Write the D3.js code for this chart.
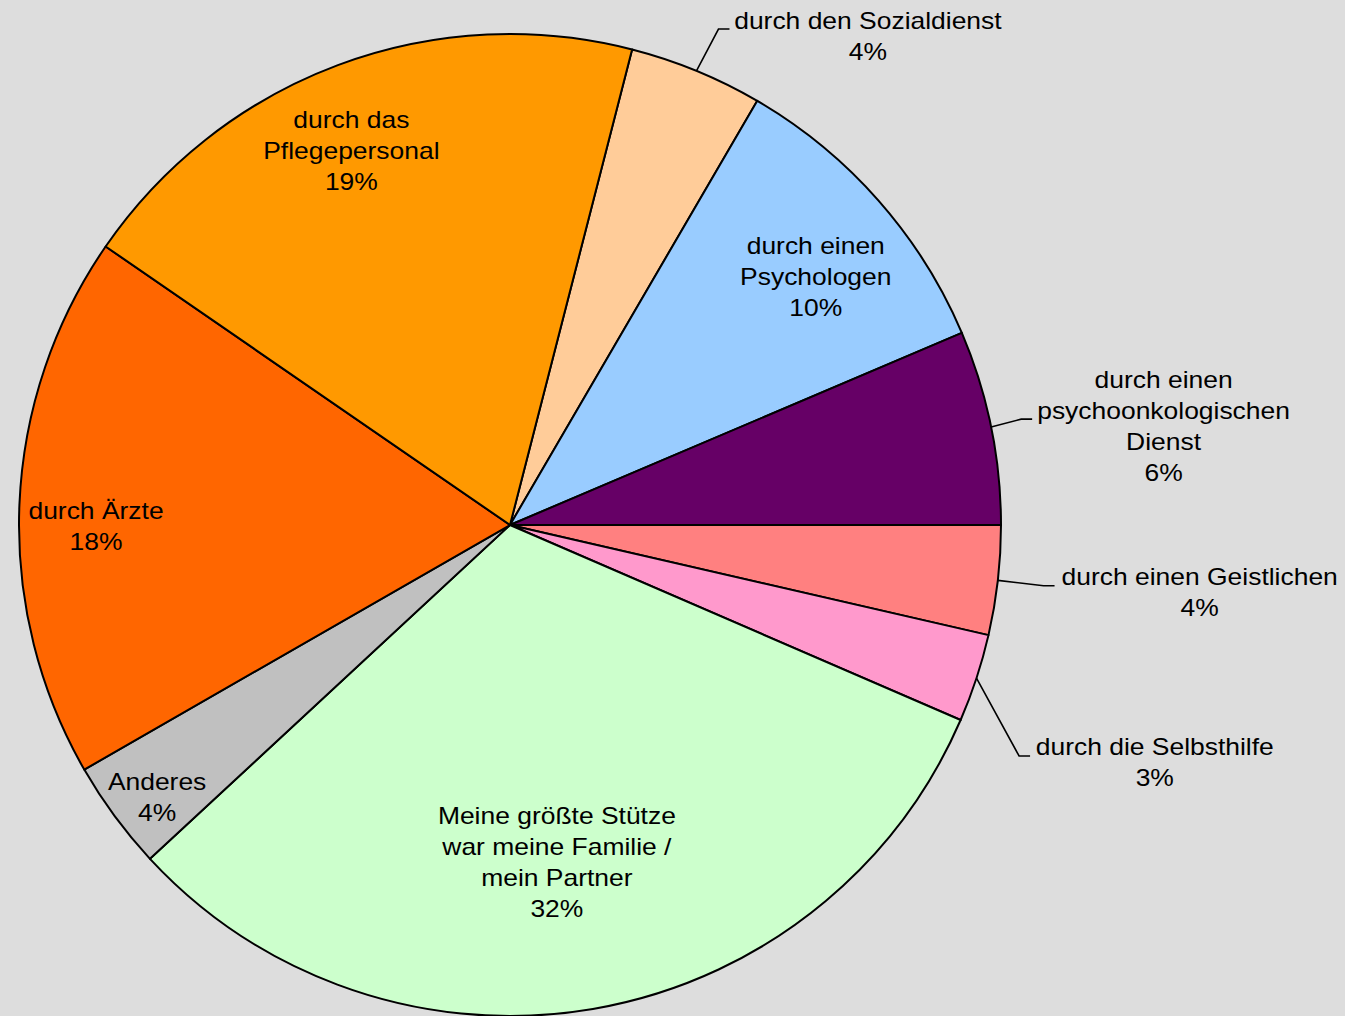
<!DOCTYPE html>
<head>
  <meta charset="UTF-8">
  <title>pie</title>
  <style>
  body, html, svg{
    padding: 0;
    margin: 0;
  }
  body{
    background: #dddddd;
    overflow: hidden;
  }
  </style>
</head>
<body>
  <script src="https://cdn.jsdelivr.net/npm/d3@7/dist/d3.min.js"></script>
  <script type="text/javascript">
  var width = 1345;
  var height = 1016;

  // data, clockwise from the Sozialdienst slice
  var labels = [
    ['durch den Sozialdienst'],
    ['durch einen', 'Psychologen'],
    ['durch einen', 'psychoonkologischen', 'Dienst'],
    ['durch einen Geistlichen'],
    ['durch die Selbsthilfe'],
    ['Meine größte Stütze', 'war meine Familie /', 'mein Partner'],
    ['Anderes'],
    ['durch Ärzte'],
    ['durch das', 'Pflegepersonal']
  ];
  var values = [4.4, 10.2, 6.4, 3.6, 2.9, 31.6, 3.6, 17.9, 19.4];
  var colors = ['#ffcc99', '#99ccff', '#660066', '#ff8080', '#ff99cc',
                '#ccffcc', '#c0c0c0', '#ff6600', '#ff9900'];

  // label layout: angle (deg) and radius of the text block centre
  var labelAngle  = [36.2, 50.9, 81.4, 95.6, 110.2, 172.1, 232.3, 269.8, 337.0];
  var labelRadius = [606, 394, 661, 693, 687, 341, 446, 414, 406];
  // leader elbows for outside labels (angle, radius), null = inside
  var elbow = [[22.8, 538], null, [78.3, 522], [96.5, 537], [114.4, 559],
               null, null, null, null];

  var cx = 510, cy = 525, R = 491;
  var lineH = 31;
  var rad = Math.PI / 180;

  var svg = d3.select('body')
    .append('svg')
    .attr('width', width)
    .attr('height', height);

  var g = svg.append('g').attr('transform', 'translate(' + cx + ',' + cy + ')');

  var pie = d3.pie()
    .sort(null)
    .value(function(d){ return d; })
    .startAngle(14.4 * rad)
    .endAngle(374.4 * rad);

  var arcs = pie(values);
  var arc = d3.arc().innerRadius(0).outerRadius(R);

  g.selectAll('path.slice')
    .data(arcs)
    .enter()
    .append('path')
    .attr('class', 'slice')
    .attr('d', arc)
    .attr('fill', function(d, i){ return colors[i]; })
    .attr('stroke', '#000')
    .attr('stroke-width', 2)
    .attr('stroke-linejoin', 'round');

  function polar(a, r){
    return [Math.sin(a * rad) * r, -Math.cos(a * rad) * r];
  }

  var total = d3.sum(values);

  // leader lines
  arcs.forEach(function(d, i){
    if(!elbow[i]) return;
    var mid = (d.startAngle + d.endAngle) / 2;
    var p0 = [Math.sin(mid) * R, -Math.cos(mid) * R];
    var p1 = polar(elbow[i][0], elbow[i][1]);
    var p2 = [p1[0] + 11, p1[1]];
    g.append('path')
      .attr('d', d3.line()([p0, p1, p2]))
      .attr('fill', 'none')
      .attr('stroke', '#000')
      .attr('stroke-width', 1.6);
  });

  // labels (text in the original is a little wider than tall)
  arcs.forEach(function(d, i){
    var lines = labels[i].concat([Math.round(values[i] / total * 100) + '%']);
    var c = polar(labelAngle[i], labelRadius[i]);
    var t = g.append('text')
      .attr('transform', 'translate(' + c[0] + ',' + c[1] + ') scale(1.15,1)')
      .attr('text-anchor', 'middle')
      .attr('font-family', '"Liberation Sans", Arial, sans-serif')
      .attr('font-size', '23px')
      .attr('fill', '#000');
    lines.forEach(function(s, k){
      t.append('tspan')
        .attr('x', 0)
        .attr('y', (k - (lines.length - 1) / 2) * lineH)
        .attr('dy', '0.35em')
        .text(s);
    });
  });
  </script>
</body>
</html>
